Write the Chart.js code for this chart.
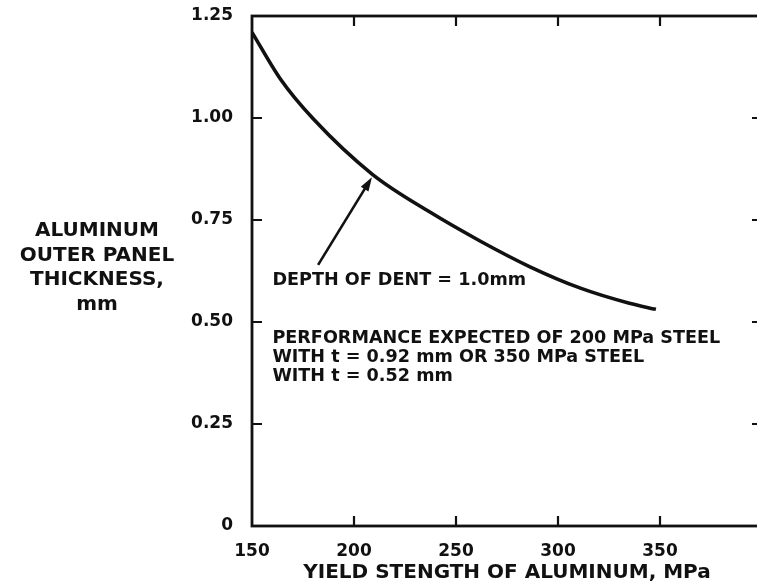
<!DOCTYPE html>
<html>
<head>
<meta charset="utf-8">
<script src="https://cdn.jsdelivr.net/npm/chart.js@4/dist/chart.umd.min.js"></script>
<style>
  html, body { margin: 0; padding: 0; background: #ffffff; overflow: hidden; }
  #wrap { position: relative; width: 780px; height: 588px; }
</style>
</head>
<body>
<div id="wrap"><canvas id="c"></canvas></div>
<script>
// Dent resistance curve: yield strength of aluminium (MPa) vs outer panel thickness (mm)
const yieldStrength  = [150, 164, 180, 209, 237, 262, 286, 311, 335, 348];
const panelThickness = [1.21, 1.095, 0.998, 0.862, 0.770, 0.698, 0.636, 0.583, 0.546, 0.531];

// Axis ticks
const xTickValues = [150, 200, 250, 300, 350];
const yTickValues = [0, 0.25, 0.50, 0.75, 1.00, 1.25];

// Texts
const xTitle = 'YIELD STENGTH OF ALUMINUM, MPa';
const yTitleLines = ['ALUMINUM', 'OUTER PANEL', 'THICKNESS,', 'mm'];
const dentLabel = 'DEPTH OF DENT = 1.0mm';
const noteLines = [
  'PERFORMANCE EXPECTED OF 200 MPa STEEL',
  'WITH t = 0.92 mm OR 350 MPa STEEL',
  'WITH t = 0.52 mm'
];

// Annotation anchors in data units [MPa, mm]
const arrowTail   = [182.4, 0.64];
const arrowHead   = [208.8, 0.855];
const dentLabelAt = [160, 0.601];
const noteAt      = [160, 0.46];

const INK = '#111111';
const FONT = '"DejaVu Sans", "Liberation Sans", sans-serif';

const frameAndNotes = {
  id: 'frameAndNotes',
  afterDraw(chart) {
    const ctx = chart.ctx;
    const a = chart.chartArea;
    const xs = chart.scales.x, ys = chart.scales.y;
    ctx.save();
    ctx.strokeStyle = INK;
    ctx.fillStyle = INK;

    // frame
    ctx.lineWidth = 2.8;
    ctx.strokeRect(a.left, a.top, a.right - a.left, a.bottom - a.top);

    // inward tick marks on all four sides
    const tl = 10;
    ctx.lineWidth = 2.2;
    ctx.beginPath();
    xTickValues.forEach(v => {
      if (v === xs.min) return;
      const px = xs.getPixelForValue(v);
      ctx.moveTo(px, a.bottom); ctx.lineTo(px, a.bottom - tl);
      ctx.moveTo(px, a.top);    ctx.lineTo(px, a.top + tl);
    });
    yTickValues.forEach(v => {
      if (v === ys.min || v === ys.max) return;
      const py = ys.getPixelForValue(v);
      ctx.moveTo(a.left, py);  ctx.lineTo(a.left + tl, py);
      ctx.moveTo(a.right, py); ctx.lineTo(a.right - tl, py);
    });
    ctx.stroke();

    // vertical axis title, horizontal lines
    ctx.font = 'bold 20px ' + FONT;
    ctx.textAlign = 'center';
    ctx.textBaseline = 'alphabetic';
    const cy = (a.top + a.bottom) / 2;
    const offsets = [-35, -10, 14, 39];
    yTitleLines.forEach((t, i) => ctx.fillText(t, a.left - 155, cy + offsets[i]));

    // curve label and arrow
    ctx.font = 'bold 17.6px ' + FONT;
    ctx.textAlign = 'left';
    ctx.textBaseline = 'middle';
    ctx.fillText(dentLabel, xs.getPixelForValue(dentLabelAt[0]), ys.getPixelForValue(dentLabelAt[1]));

    const x0 = xs.getPixelForValue(arrowTail[0]), y0 = ys.getPixelForValue(arrowTail[1]);
    const x1 = xs.getPixelForValue(arrowHead[0]), y1 = ys.getPixelForValue(arrowHead[1]);
    const ang = Math.atan2(y1 - y0, x1 - x0);
    const hl = 14, hw = 4.5;
    ctx.lineWidth = 2.6;
    ctx.beginPath();
    ctx.moveTo(x0, y0);
    ctx.lineTo(x1 - Math.cos(ang) * (hl - 2), y1 - Math.sin(ang) * (hl - 2));
    ctx.stroke();
    ctx.beginPath();
    ctx.moveTo(x1, y1);
    ctx.lineTo(x1 - Math.cos(ang) * hl - Math.sin(ang) * hw, y1 - Math.sin(ang) * hl + Math.cos(ang) * hw);
    ctx.lineTo(x1 - Math.cos(ang) * hl + Math.sin(ang) * hw, y1 - Math.sin(ang) * hl - Math.cos(ang) * hw);
    ctx.closePath();
    ctx.fill();

    // performance note
    const nx = xs.getPixelForValue(noteAt[0]);
    const ny = ys.getPixelForValue(noteAt[1]);
    noteLines.forEach((t, i) => ctx.fillText(t, nx, ny + i * 19.2));

    ctx.restore();
  }
};

new Chart(document.getElementById('c'), {
  type: 'line',
  data: {
    datasets: [{
      data: yieldStrength.map((x, i) => ({ x: x, y: panelThickness[i] })),
      borderColor: INK,
      borderWidth: 3.6,
      pointRadius: 0,
      fill: false,
      cubicInterpolationMode: 'monotone'
    }]
  },
  options: {
    responsive: true,
    maintainAspectRatio: false,
    devicePixelRatio: 1,
    animation: false,
    layout: { padding: { left: 0, right: 18, top: 16, bottom: 0 } },
    plugins: { legend: { display: false }, tooltip: { enabled: false } },
    scales: {
      x: {
        type: 'linear',
        min: 150,
        max: 400,
        afterBuildTicks(scale) { scale.ticks = xTickValues.map(v => ({ value: v })); },
        afterFit(scale) { scale.height = 62; scale.paddingLeft = 0; scale.paddingRight = 0; },
        grid: { display: false, drawTicks: false },
        border: { display: false },
        ticks: {
          color: INK,
          padding: 15,
          maxRotation: 0,
          font: { family: FONT, size: 17, weight: 'bold' },
          callback: v => String(v)
        },
        title: {
          display: true,
          text: xTitle,
          color: INK,
          font: { family: FONT, size: 20, weight: 'bold' },
          padding: { top: 0, bottom: 3 }
        }
      },
      y: {
        type: 'linear',
        min: 0,
        max: 1.25,
        afterBuildTicks(scale) { scale.ticks = yTickValues.map(v => ({ value: v })); },
        afterFit(scale) { scale.width = 252; scale.paddingTop = 0; scale.paddingBottom = 0; },
        grid: { display: false, drawTicks: false },
        border: { display: false },
        ticks: {
          color: INK,
          padding: 19,
          font: { family: FONT, size: 17, weight: 'bold' },
          callback: v => (v === 0 ? '0' : v.toFixed(2))
        }
      }
    }
  },
  plugins: [frameAndNotes]
});
</script>
</body>
</html>
